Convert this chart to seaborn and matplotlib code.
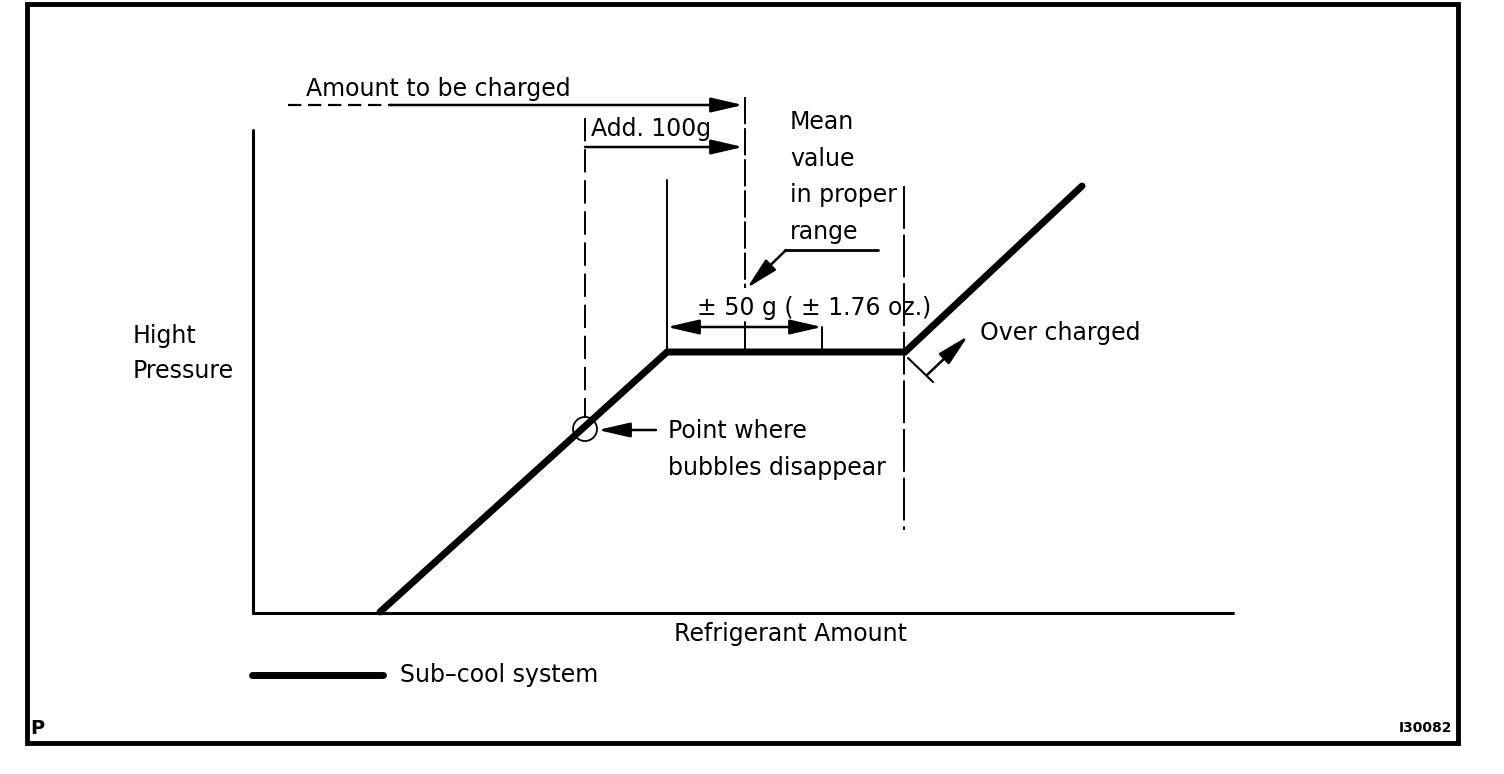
import matplotlib
matplotlib.use("Agg")
import matplotlib.pyplot as plt
import seaborn as sns
import pandas as pd
from matplotlib.patches import Rectangle, Circle

# ---- data (diagram coordinates, pixel-like units, y grows downward) ----
refrigerant_amount = [380, 667, 905, 1082]
high_pressure = [612, 352, 352, 186]
series_label = "Sub\u2013cool system"

x_label = "Refrigerant Amount"
y_label_lines = ["Hight", "Pressure"]
amount_label = "Amount to be charged"
add_label = "Add. 100g"
mean_lines = ["Mean", "value", "in proper", "range"]
tol_label = "\u00b1 50 g ( \u00b1 1.76 oz.)"
over_label = "Over charged"
bubble_lines = ["Point where", "bubbles disappear"]
corner_left = "P"
corner_right = "I30082"

sns.set_theme(style="white")
plt.rcParams["font.family"] = ["DejaVu Sans"]
plt.rcParams["text.color"] = "black"

fig = plt.figure(figsize=(15.04, 7.74), dpi=100)
ax = fig.add_axes([0, 0, 1, 1])
ax.set_xlim(0, 1504)
ax.set_ylim(774, 0)
ax.axis("off")

K = "black"
FS = 17


def txt(x, y, s, **kw):
    kw.setdefault("fontsize", FS)
    kw.setdefault("ha", "left")
    kw.setdefault("va", "baseline")
    ax.text(x, y, s, color=K, **kw)


# outer frame
ax.add_patch(Rectangle((27, 4), 1431, 739, fill=False, lw=3.5, ec=K))

# axes lines
ax.plot([253, 253], [130, 613], color=K, lw=2.2)
ax.plot([253, 1233], [613, 613], color=K, lw=2.2)

# main curve
df = pd.DataFrame({"amount": refrigerant_amount, "pressure": high_pressure, "system": series_label})
sns.lineplot(data=df, x="amount", y="pressure", color=K, lw=5, ax=ax, sort=False,
             estimator=None, legend=False, solid_joinstyle="miter")

# legend line + label
ax.plot([252, 383], [675, 675], color=K, lw=5)
txt(400, 682, series_label)

# axis labels
txt(790, 641, x_label, ha="center")
txt(133, 343, y_label_lines[0])
txt(133, 378, y_label_lines[1])

# vertical guide lines
ax.plot([667, 667], [180, 352], color=K, lw=1.4)
ax.plot([745, 745], [97, 288], color=K, lw=1.4, ls=(0, (14, 2)))
ax.plot([745, 745], [322, 352], color=K, lw=1.4)
ax.plot([822, 822], [327, 352], color=K, lw=1.4)
ax.plot([904, 904], [186, 530], color=K, lw=1.4, ls=(0, (22, 3)))
ax.plot([585, 585], [118, 417], color=K, lw=1.4, ls=(0, (12, 4)))

arrow = dict(arrowstyle="-|>,head_length=1.3,head_width=0.3", mutation_scale=15,
             color=K, lw=1.8, shrinkA=0, shrinkB=0)

# amount to be charged
ax.plot([288, 392], [105, 105], color=K, lw=1.6, ls=(0, (6, 3)))
ax.annotate("", xy=(743, 105), xytext=(390, 105), arrowprops=arrow)
txt(306, 96, amount_label)

# add 100 g
ax.annotate("", xy=(743, 147), xytext=(585, 147), arrowprops=arrow)
txt(591, 136, add_label)

# mean value text + leader
for i, s in enumerate(mean_lines):
    txt(790, 129 + i * 36.5, s)
ax.plot([878, 785], [250, 250], color=K, lw=2)
ax.annotate("", xy=(747, 288), xytext=(786, 250), arrowprops=arrow)

# tolerance double arrow
ax.annotate("", xy=(667, 327), xytext=(745, 327), arrowprops=arrow)
ax.annotate("", xy=(822, 327), xytext=(745, 327), arrowprops=arrow)
txt(697, 315, tol_label)

# over charged
ax.plot([908, 933], [358, 382], color=K, lw=1.5)
ax.annotate("", xy=(968, 336), xytext=(927, 375), arrowprops=arrow)
txt(980, 340, over_label)

# bubbles disappear
ax.add_patch(Circle((585, 429), 12, fill=False, ec=K, lw=1.3))
ax.annotate("", xy=(598, 430), xytext=(656, 430), arrowprops=arrow)
txt(668, 438, bubble_lines[0])
txt(668, 475, bubble_lines[1])

# corner marks
txt(30, 734, corner_left, fontsize=14, fontweight="bold")
txt(1452, 732, corner_right, fontsize=10, ha="right", fontweight="bold")

fig.savefig("out.png", dpi=100, facecolor="white")
